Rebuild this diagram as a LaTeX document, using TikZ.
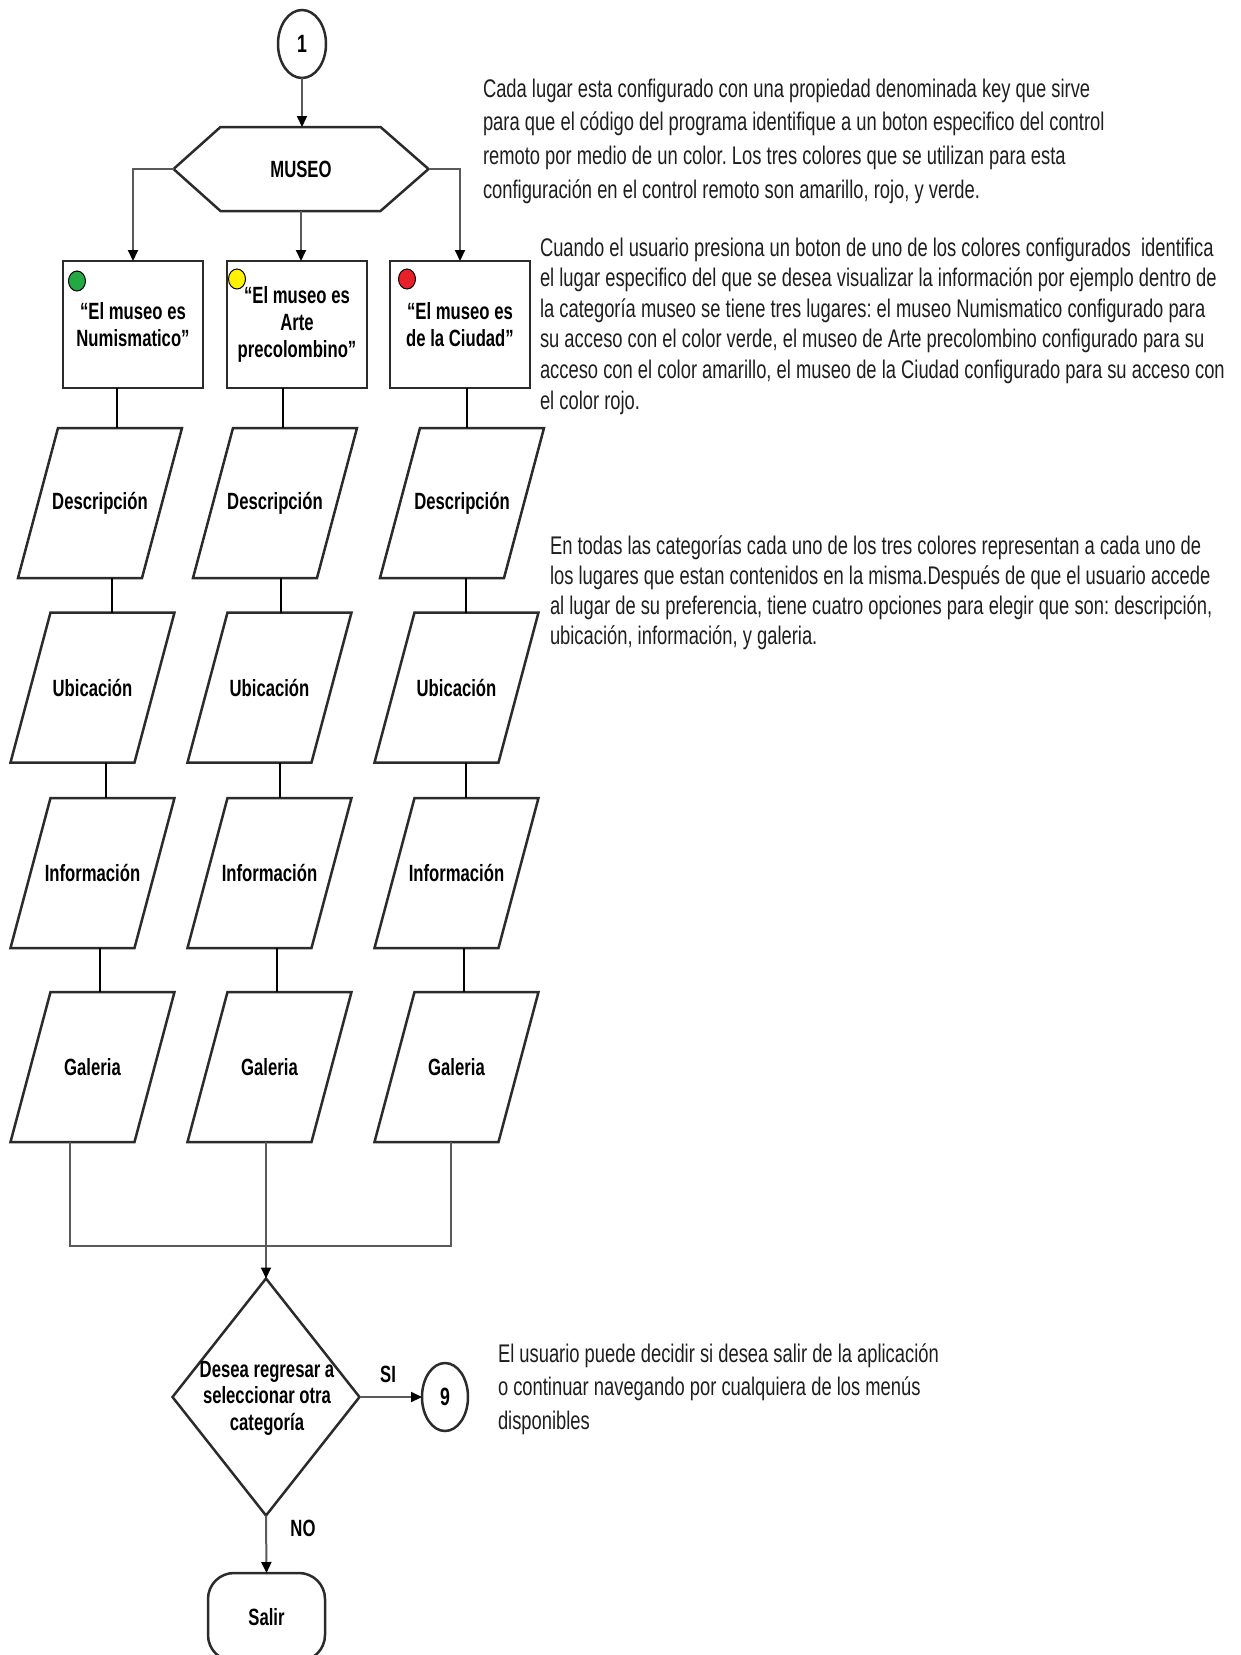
\documentclass[tikz,border=0pt]{standalone}
\usepackage{fontspec}
\usetikzlibrary{arrows.meta,shapes.geometric,calc}
\newfontfamily\fnarrow{Liberation Sans}[FakeStretch=0.72]
\newfontfamily\fbold{Liberation Sans}[FakeStretch=0.71]
\definecolor{edge}{HTML}{2B2B2B}
\definecolor{conngray}{HTML}{5A5A5A}
\definecolor{txt}{HTML}{1E1E1E}
\definecolor{dotgreen}{HTML}{22A845}
\definecolor{dotyellow}{HTML}{FFF200}
\definecolor{dotred}{HTML}{E8202A}
\newcommand\paraoutline[1]{\draw[shapeline, line join=miter] ([xshift=40pt]#1.north west) -- (#1.north east) -- ([xshift=-40pt]#1.south east) -- (#1.south west) -- cycle;}
\frenchspacing
\begin{document}
\begin{tikzpicture}[x=1pt,y=-1pt,
  shapeline/.style={draw=edge, line width=2.5pt},
  lbl/.style={font=\fbold\bfseries\fontsize{23.5}{27}\selectfont, text=black},
  conn/.style={draw=black, line width=1.3pt},
  gconn/.style={draw=conngray, line width=2pt},
  arr/.style={-{Triangle[length=11pt,width=10pt,color=black]}},
  oval/.style={ellipse, shapeline, inner sep=0pt, outer sep=0pt, lbl, font=\fbold\bfseries\fontsize{25}{28}\selectfont},
  box/.style={shapeline, rectangle, minimum width=140pt, minimum height=127pt, inner sep=0pt, outer sep=0pt, align=center, lbl},
  dot/.style={ellipse, draw=black, line width=1pt, minimum width=17pt, minimum height=20pt, inner sep=0pt},
  para/.style={rectangle, minimum width=164pt, minimum height=150pt, inner sep=0pt, outer sep=0pt, lbl},
  ptext/.style={text=txt, align=left, inner sep=0pt, outer sep=0pt, anchor=north west}
]
\useasboundingbox (0,0) rectangle (1240,1655);

% connector 1 and hexagon
\node[oval, minimum width=48pt, minimum height=68pt] (c1) at (302,44) {1};
\node[inner sep=0pt, outer sep=0pt, minimum width=255pt, minimum height=84pt, lbl] (museo) at (301,169) {MUSEO};
\draw[shapeline, line join=round] (museo.west) -- ([xshift=47pt]museo.north west) -- ([xshift=-48pt]museo.north east) -- (museo.east) -- ([xshift=-48pt]museo.south east) -- ([xshift=47pt]museo.south west) -- cycle;

% boxes
\node[box] (b1) at (133,324.5) {“El museo es\\Numismatico”};
\node[box] (b2) at (297,324.5) {“El museo es\\Arte\\precolombino”};
\node[box] (b3) at (460,324.5) {“El museo es\\de la Ciudad”};
\node[dot, fill=dotgreen] (dg) at (77,281) {};
\node[dot, fill=dotyellow] (dy) at (237,279) {};
\node[dot, fill=dotred] (dr) at (407,279) {};

% parallelograms
\node[para] (d1) at (100,503) {Descripción};
\node[para] (d2) at (275,503) {Descripción};
\node[para] (d3) at (462,503) {Descripción};
\node[para] (u1) at (92.5,687.5) {Ubicación};
\node[para] (u2) at (269.5,687.5) {Ubicación};
\node[para] (u3) at (456.5,687.5) {Ubicación};
\node[para] (i1) at (92.5,873) {Información};
\node[para] (i2) at (269.5,873) {Información};
\node[para] (i3) at (456.5,873) {Información};
\node[para] (g1) at (92.5,1067) {Galeria};
\node[para] (g2) at (269.5,1067) {Galeria};
\node[para] (g3) at (456.5,1067) {Galeria};
\foreach \n in {d1,d2,d3,u1,u2,u3,i1,i2,i3,g1,g2,g3} {\paraoutline{\n}}

% decision, end
\node[diamond, shapeline, minimum width=187pt, minimum height=237pt, inner sep=0pt, outer sep=0pt] (dec) at (266,1397) {};
\node[lbl, align=center, font=\fbold\bfseries\fontsize{23.5}{26.5}\selectfont] (dect) at (267,1398) {Desea regresar a\\seleccionar otra\\categoría};
\node[oval, minimum width=46pt, minimum height=68pt] (c9) at (445,1397) {9};
\node[lbl] (si) at (388,1374) {SI};
\node[lbl] (no) at (303,1528) {NO};
\node[shapeline, rectangle, rounded corners=26pt, minimum width=117pt, minimum height=88pt, inner sep=0pt, outer sep=0pt, lbl, anchor=north] (salir) at (266.5,1573) {Salir};

% connectors top
\draw[gconn, arr] (c1.south) -- (museo.north -| c1.south);
\draw[gconn, arr] (museo.west) -| (b1.north);
\draw[gconn, arr] (museo.east) -| (b3.north);
\draw[gconn, arr] (museo.south) -- (museo.south |- b2.north);

% column connectors
\draw[conn] (b1.south -| 117,0) -- (d1.north -| 117,0);
\draw[conn] (b2.south -| 283,0) -- (d2.north -| 283,0);
\draw[conn] (b3.south -| 467,0) -- (d3.north -| 467,0);
\draw[conn] (d1.south -| 112,0) -- (u1.north -| 112,0);
\draw[conn] (d2.south -| 281,0) -- (u2.north -| 281,0);
\draw[conn] (d3.south -| 466,0) -- (u3.north -| 466,0);
\draw[conn] (u1.south -| 106,0) -- (i1.north -| 106,0);
\draw[conn] (u2.south -| 280,0) -- (i2.north -| 280,0);
\draw[conn] (u3.south -| 466,0) -- (i3.north -| 466,0);
\draw[conn] (i1.south -| 100,0) -- (g1.north -| 100,0);
\draw[conn] (i2.south -| 277,0) -- (g2.north -| 277,0);
\draw[conn] (i3.south -| 464,0) -- (g3.north -| 464,0);

% merge
\coordinate (mL) at (70,1246);
\coordinate (mR) at (451,1246);
\draw[gconn] (g1.south -| mL) -- (mL) -- (mR) -- (g3.south -| mR);
\draw[gconn, arr] (g2.south -| dec.north) -- (dec.north);
\draw[gconn, arr] (dec.east) -- (c9.west);
\draw[gconn, arr] (dec.south) -- (salir.north);

% notes
\node[ptext, font=\fnarrow\fontsize{25.5}{33.7}\selectfont] (t1) at (483,76) {\rule{0pt}{21pt}Cada lugar esta configurado con una propiedad denominada key que sirve\\para que el código del programa identifique a un boton especifico del control\\remoto por medio de un color. Los tres colores que se utilizan para esta\\configuración en el control remoto son amarillo, rojo, y verde.};
\node[ptext, font=\fnarrow\fontsize{25.5}{30.6}\selectfont] (t2) at (540,235) {\rule{0pt}{21pt}Cuando el usuario presiona un boton de uno de los colores configurados~ identifica\\el lugar especifico del que se desea visualizar la información por ejemplo dentro de\\la categoría museo se tiene tres lugares: el museo Numismatico configurado para\\su acceso con el color verde, el museo de Arte precolombino configurado para su\\acceso con el color amarillo, el museo de la Ciudad configurado para su acceso con\\el color rojo.};
\node[ptext, font=\fnarrow\fontsize{25.5}{30}\selectfont] (t3) at (550,533) {\rule{0pt}{21pt}En todas las categorías cada uno de los tres colores representan a cada uno de\\los lugares que estan contenidos en la misma.Después de que el usuario accede\\al lugar de su preferencia, tiene cuatro opciones para elegir que son: descripción,\\ubicación, información, y galeria.};
\node[ptext, font=\fnarrow\fontsize{25.5}{33.5}\selectfont] (t4) at (498,1341) {\rule{0pt}{21pt}El usuario puede decidir si desea salir de la aplicación\\o continuar navegando por cualquiera de los menús\\disponibles};
\end{tikzpicture}
\end{document}
